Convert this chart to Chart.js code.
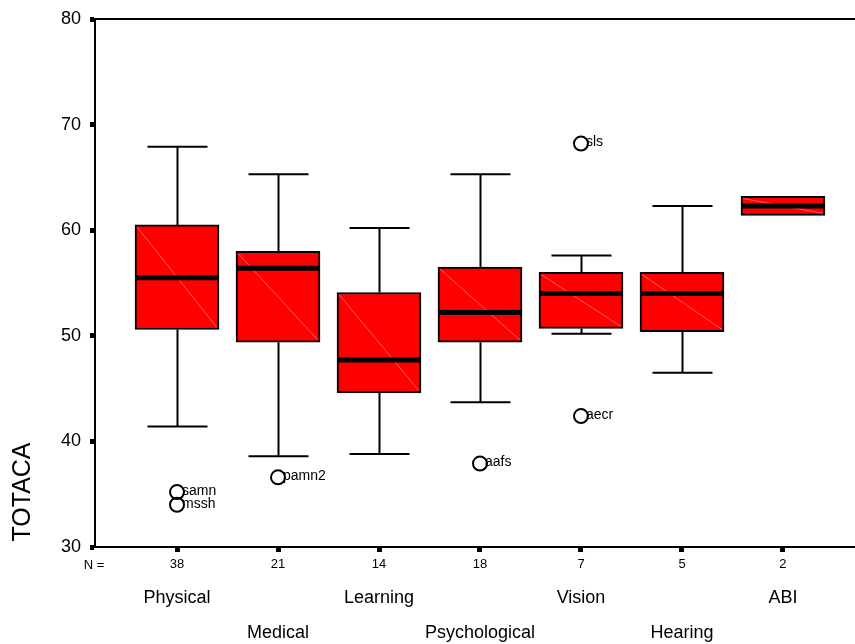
<!DOCTYPE html>
<html>
<head>
<meta charset="utf-8">
<script src="https://cdn.jsdelivr.net/npm/chart.js@4.4.0/dist/chart.umd.min.js"></script>
<style>
  body { margin: 0; background: #fff; }
  #wrap { width: 855px; height: 644px; }
</style>
</head>
<body>
<div id="wrap"><canvas id="boxChart" width="855" height="644"></canvas></div>
<script>
/* data */
const groups = ['Physical', 'Medical', 'Learning', 'Psychological', 'Vision', 'Hearing', 'ABI'];
const counts = [38, 21, 14, 18, 7, 5, 2];
const whiskerLow = [41.4, 38.6, 38.8, 43.7, 50.2, 46.5, 61.4];
const q1 = [50.6, 49.4, 44.6, 49.4, 50.7, 50.4, 61.4];
const median = [55.5, 56.4, 47.7, 52.2, 54.0, 54.0, 62.3];
const q3 = [60.5, 58.0, 54.1, 56.5, 56.0, 56.0, 63.2];
const whiskerHigh = [67.9, 65.3, 60.2, 65.3, 57.6, 62.3, 63.2];

// outliers (group index is 1-based position on the x scale)
const outlierGroup = [1, 1, 2, 4, 5, 5];
const outlierValue = [35.2, 34.0, 36.6, 37.9, 68.2, 42.4];
const outlierLabel = ['samn', 'mssh', 'pamn2', 'aafs', 'sls', 'aecr'];

const yTicks = [30, 40, 50, 60, 70, 80];

const FONT = 'Arial, "Liberation Sans", sans-serif';

/* Box extras: whiskers, medians, labels */
const boxPlugin = {
  id: 'boxExtras',
  beforeDatasetsDraw(chart) {
    const { ctx, scales: { x, y } } = chart;
    ctx.save();
    ctx.strokeStyle = '#000';
    ctx.lineWidth = 2;
    groups.forEach((g, i) => {
      const px = Math.round(x.getPixelForValue(i + 1)) + 0.5;
      if (whiskerHigh[i] > q3[i]) {
        const top = y.getPixelForValue(whiskerHigh[i]);
        ctx.beginPath();
        ctx.moveTo(px, y.getPixelForValue(q3[i]));
        ctx.lineTo(px, top);
        ctx.moveTo(px - 30, top);
        ctx.lineTo(px + 30, top);
        ctx.stroke();
      }
      if (whiskerLow[i] < q1[i]) {
        const bot = y.getPixelForValue(whiskerLow[i]);
        ctx.beginPath();
        ctx.moveTo(px, y.getPixelForValue(q1[i]));
        ctx.lineTo(px, bot);
        ctx.moveTo(px - 30, bot);
        ctx.lineTo(px + 30, bot);
        ctx.stroke();
      }
    });
    ctx.restore();
  },
  afterDatasetsDraw(chart) {
    const { ctx, scales: { x, y } } = chart;
    const boxes = chart.getDatasetMeta(0).data;
    ctx.save();
    boxes.forEach((bar, i) => {
      const half = bar.width / 2;
      const top = y.getPixelForValue(q3[i]);
      const bot = y.getPixelForValue(q1[i]);
      // faint diagonal sheen
      ctx.strokeStyle = 'rgba(255,170,170,0.7)';
      ctx.lineWidth = 0.8;
      ctx.beginPath();
      ctx.moveTo(bar.x - half + 2, top + 2);
      ctx.lineTo(bar.x + half - 2, bot - 2);
      ctx.stroke();
      // median
      ctx.strokeStyle = '#000';
      ctx.lineWidth = 5;
      const my = y.getPixelForValue(median[i]);
      ctx.beginPath();
      ctx.moveTo(bar.x - half + 1, my);
      ctx.lineTo(bar.x + half - 1, my);
      ctx.stroke();
    });
    // outlier names
    ctx.fillStyle = '#000';
    ctx.font = '14px ' + FONT;
    ctx.textBaseline = 'middle';
    ctx.textAlign = 'left';
    outlierLabel.forEach((lab, i) => {
      const px = x.getPixelForValue(outlierGroup[i]);
      const py = y.getPixelForValue(outlierValue[i]);
      ctx.fillText(lab, px + 5, py - 1);
    });
    ctx.restore();
  },
  afterDraw(chart) {
    const { ctx, chartArea, scales: { x } } = chart;
    ctx.save();
    // top frame line
    ctx.strokeStyle = '#000';
    ctx.lineWidth = 2;
    ctx.beginPath();
    ctx.moveTo(chartArea.left, chartArea.top);
    ctx.lineTo(chartArea.right, chartArea.top);
    ctx.stroke();

    ctx.fillStyle = '#000';
    ctx.textAlign = 'center';
    ctx.textBaseline = 'middle';
    ctx.font = '13px ' + FONT;
    ctx.fillText('N =', 94, 565);

    // group names on two staggered rows
    ctx.font = '18px ' + FONT;
    groups.forEach((g, i) => {
      const px = x.getPixelForValue(i + 1);
      ctx.fillText(g, px, i % 2 === 0 ? 598 : 633);
    });

    // y axis title
    ctx.font = '25px ' + FONT;
    ctx.translate(23, 492);
    ctx.rotate(-Math.PI / 2);
    ctx.fillText('TOTACA', 0, 0);
    ctx.restore();
  }
};

const ctx = document.getElementById('boxChart').getContext('2d');

new Chart(ctx, {
  type: 'bar',
  data: {
    datasets: [
      {
        type: 'bar',
        label: 'box',
        data: groups.map((g, i) => ({ x: i + 1, y: [q1[i], q3[i]] })),
        backgroundColor: '#ff0000',
        borderColor: '#000',
        borderWidth: 2,
        borderSkipped: false,
        barThickness: 84,
        order: 2
      },
      {
        type: 'scatter',
        label: 'outliers',
        data: outlierValue.map((v, i) => ({ x: outlierGroup[i], y: v })),
        pointStyle: 'circle',
        pointRadius: 7,
        pointBorderWidth: 2,
        pointBorderColor: '#000',
        pointBackgroundColor: 'rgba(0,0,0,0)',
        order: 1
      }
    ]
  },
  options: {
    responsive: false,
    animation: false,
    layout: { autoPadding: false, padding: { top: 19, right: 0, bottom: 0, left: 0 } },
    plugins: {
      legend: { display: false },
      tooltip: { enabled: false },
      title: { display: false }
    },
    scales: {
      x: {
        type: 'linear',
        offset: false,
        min: 0.188,
        max: 7.713,
        afterBuildTicks: (scale) => {
          scale.ticks = counts.map((c, i) => ({ value: i + 1 }));
        },
        afterFit: (scale) => {
          scale.height = 97;
          scale.paddingRight = 0;
          scale.paddingLeft = 0;
        },
        grid: {
          offset: false,
          drawOnChartArea: false,
          drawTicks: true,
          tickLength: 5,
          tickWidth: 5,
          tickColor: '#000'
        },
        border: { display: true, color: '#000', width: 2 },
        ticks: {
          color: '#000',
          padding: 5,
          maxRotation: 0,
          autoSkip: false,
          font: { family: FONT, size: 13 },
          callback: (v) => String(counts[Math.round(v) - 1])
        }
      },
      y: {
        min: 30,
        max: 80,
        afterBuildTicks: (scale) => {
          scale.ticks = yTicks.map(v => ({ value: v }));
        },
        afterFit: (scale) => {
          scale.width = 95;
          scale.paddingTop = 0;
          scale.paddingBottom = 0;
        },
        grid: {
          drawOnChartArea: false,
          drawTicks: true,
          tickLength: 5,
          tickWidth: 5,
          tickColor: '#000'
        },
        border: { display: true, color: '#000', width: 2 },
        ticks: {
          color: '#000',
          padding: 9,
          font: { family: FONT, size: 18 }
        }
      }
    }
  },
  plugins: [boxPlugin]
});
</script>
</body>
</html>
